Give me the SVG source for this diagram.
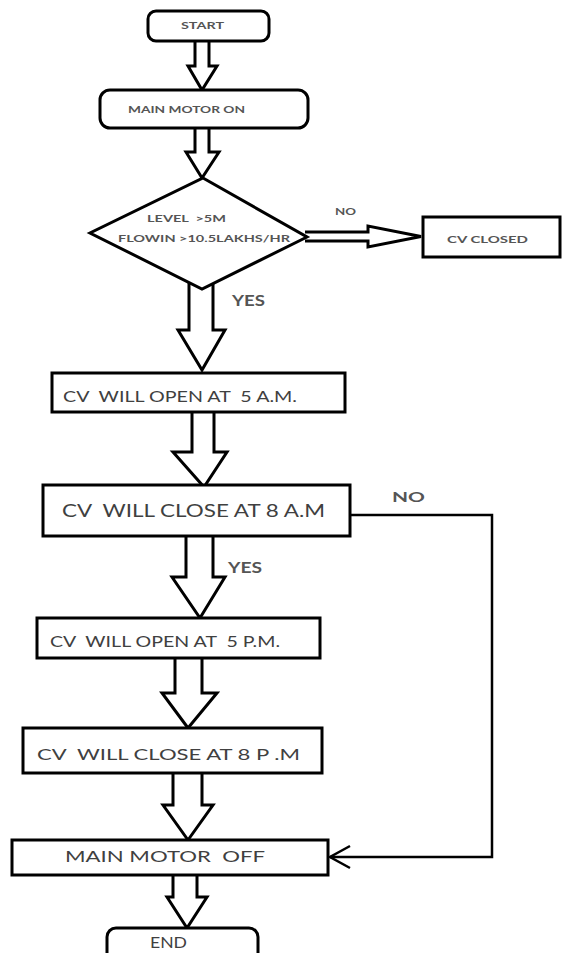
<svg xmlns="http://www.w3.org/2000/svg" width="565" height="953" viewBox="0 0 565 953" xml:space="preserve">
<style>
.box{fill:#fff;stroke:#000;stroke-width:3}
.arr{fill:#fff;stroke:#000;stroke-width:3;stroke-linejoin:miter}
.ln{fill:none;stroke:#000;stroke-width:2.5}
.t{font-family:Lato,"Open Sans","Liberation Sans",sans-serif;fill:#404040;white-space:pre}
.s{font-family:Lato,"Open Sans","Liberation Sans",sans-serif;fill:#555;font-weight:bold;white-space:pre}
</style>
<rect width="565" height="953" fill="#fff"/>
<g id="connectors">
<path class="arr" d="M195,42 V66 H188 L202,90 L217,66 H209 V42"/>
<path class="arr" d="M195,128 V152 H186 L202,178 L219,152 H209 V128"/>
<path class="arr" d="M189,283 V330 H178 L202,370 L225,330 H213 V283"/>
<path class="arr" d="M305,232 H368 V226 L421,236.5 L368,247 V241 H305"/>
<path class="arr" d="M192,412 V452 H173 L204,487 L227,452 H214 V412"/>
<path class="arr" d="M186,536 V577 H172 L200,618 L225,577 H213 V536"/>
<path class="arr" d="M175,658 V693 H162 L188,728 L217,693 H202 V658"/>
<path class="arr" d="M173,773 V805 H163 L188,840 L213,805 H202 V773"/>
<path class="arr" d="M173,875 V897 H167 L187,928 L207,897 H197 V875"/>
<polyline class="ln" points="350,515 492,515 492,857 330,857"/>
<polyline class="ln" points="350,846 330,857 350,868"/>
<text class="s" x="335" y="215" font-size="10" textLength="21" lengthAdjust="spacingAndGlyphs">NO</text>
<text class="s" x="232" y="306" font-size="15" textLength="33" lengthAdjust="spacingAndGlyphs">YES</text>
<text class="s" x="392" y="502" font-size="14" textLength="33" lengthAdjust="spacingAndGlyphs">NO</text>
<text class="s" x="228" y="573" font-size="15" textLength="34" lengthAdjust="spacingAndGlyphs">YES</text>
</g>
<g id="start">
<rect class="box" x="148" y="11" width="121" height="30" rx="8"/>
<text class="s" x="181" y="29" font-size="10" textLength="43" lengthAdjust="spacingAndGlyphs">START</text>
</g>
<g id="motor-on">
<rect class="box" x="100" y="90" width="208" height="38" rx="10"/>
<text class="s" x="128" y="113" font-size="10" textLength="117" lengthAdjust="spacingAndGlyphs">MAIN MOTOR ON</text>
</g>
<g id="decision">
<polygon class="box" points="203,178 307,237 202,289 90,233"/>
<text class="s" x="147" y="222" font-size="10" textLength="79" lengthAdjust="spacingAndGlyphs">LEVEL  &gt;5M</text>
<text class="s" x="118" y="242" font-size="10" textLength="172" lengthAdjust="spacingAndGlyphs">FLOWIN &gt;10.5LAKHS/HR</text>
</g>
<g id="cv-closed">
<rect class="box" x="423" y="217" width="137" height="40"/>
<text class="s" x="447" y="243" font-size="10" textLength="81" lengthAdjust="spacingAndGlyphs">CV CLOSED</text>
</g>
<g id="open-5am">
<rect class="box" x="52" y="373" width="293" height="39"/>
<text class="t" x="63" y="402" font-size="15" textLength="234" lengthAdjust="spacingAndGlyphs">CV  WILL OPEN AT  5 A.M.</text>
</g>
<g id="close-8am">
<rect class="box" x="43" y="485" width="307" height="51"/>
<text class="t" x="62" y="517" font-size="17" textLength="263" lengthAdjust="spacingAndGlyphs">CV  WILL CLOSE AT 8 A.M</text>
</g>
<g id="open-5pm">
<rect class="box" x="37" y="618" width="283" height="40"/>
<text class="t" x="50" y="647" font-size="15" textLength="230" lengthAdjust="spacingAndGlyphs">CV  WILL OPEN AT  5 P.M.</text>
</g>
<g id="close-8pm">
<rect class="box" x="23" y="728" width="299" height="45"/>
<text class="t" x="37" y="760" font-size="16" textLength="263" lengthAdjust="spacingAndGlyphs">CV  WILL CLOSE AT 8 P .M</text>
</g>
<g id="motor-off">
<rect class="box" x="12" y="840" width="316" height="35"/>
<text class="t" x="65" y="862" font-size="16" textLength="200" lengthAdjust="spacingAndGlyphs">MAIN MOTOR  OFF</text>
</g>
<g id="end">
<rect class="box" x="107" y="928" width="151" height="40" rx="9"/>
<text class="t" x="150" y="948" font-size="15" textLength="37" lengthAdjust="spacingAndGlyphs">END</text>
</g>
</svg>
